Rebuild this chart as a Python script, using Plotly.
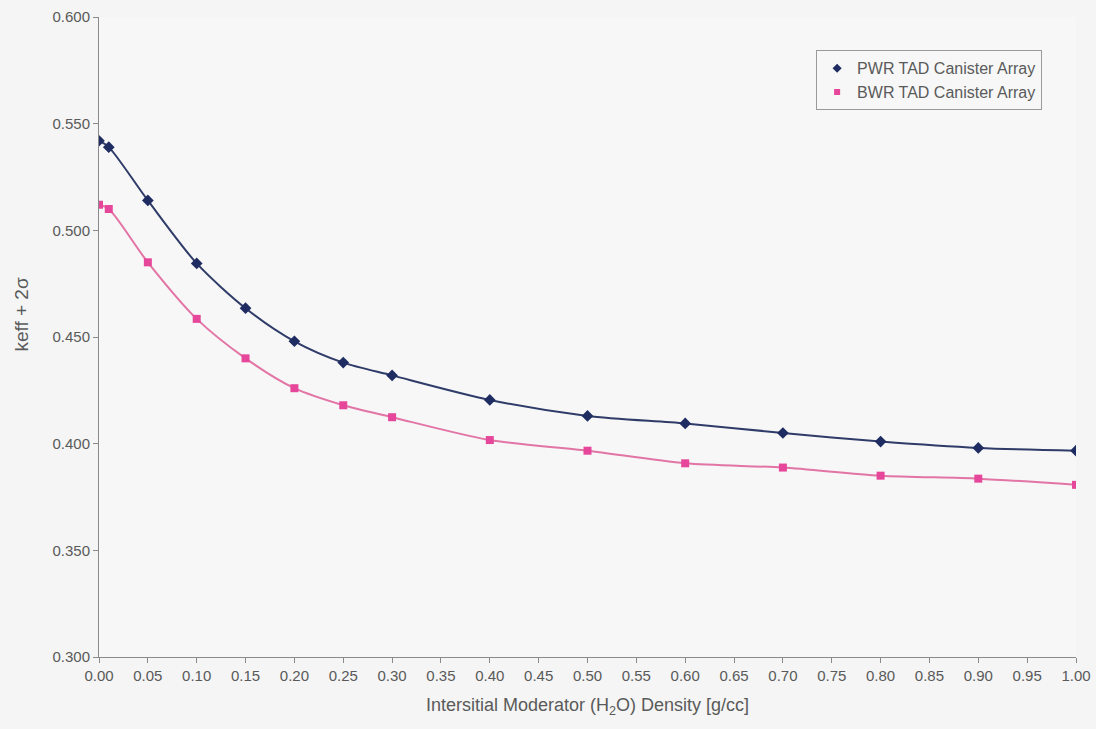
import plotly.graph_objects as go

# Interstitial moderator density [g/cc]
density = [0.00, 0.01, 0.05, 0.10, 0.15, 0.20, 0.25, 0.30, 0.40, 0.50, 0.60, 0.70, 0.80, 0.90, 1.00]

# keff + 2 sigma for each canister array
pwr_keff = [0.542, 0.539, 0.514, 0.4845, 0.4635, 0.448, 0.438, 0.432, 0.4205, 0.413, 0.4095,
            0.405, 0.401, 0.398, 0.3967]
bwr_keff = [0.512, 0.510, 0.485, 0.4585, 0.440, 0.426, 0.418, 0.4124, 0.4017, 0.3967, 0.3908,
            0.3888, 0.385, 0.3836, 0.3807]

x_ticks = [round(i * 0.05, 2) for i in range(21)]
x_tick_text = [f"{v:.2f}" for v in x_ticks]
y_ticks = [0.300, 0.350, 0.400, 0.450, 0.500, 0.550, 0.600]
y_tick_text = [f"{v:.3f}" for v in y_ticks]

FONT = "Liberation Sans, Arial, sans-serif"
GREY = "#5a5a5a"
AXIS = "#8a8a8a"

series = [
    ("PWR TAD Canister Array", pwr_keff, "#2f3b68", "#1f2c62", "diamond", 9),
    ("BWR TAD Canister Array", bwr_keff, "#e274a6", "#e6479a", "square", 8),
]

fig = go.Figure()
for name, values, line_color, marker_color, symbol, size in series:
    fig.add_trace(go.Scatter(
        x=density, y=values, name=name, showlegend=False,
        mode="lines+markers",
        line=dict(color=line_color, width=2, shape="spline", smoothing=0.8),
        marker=dict(symbol=symbol, size=size, color=marker_color),
    ))
# marker-only legend entries
for name, values, line_color, marker_color, symbol, size in series:
    fig.add_trace(go.Scatter(
        x=[None], y=[None], name=name, mode="markers",
        marker=dict(symbol=symbol, size=size - 2, color=marker_color),
    ))

fig.update_xaxes(
    range=[0, 1], tickvals=x_ticks, ticktext=x_tick_text,
    showgrid=False, zeroline=False, automargin=False,
    showline=True, linecolor=AXIS, linewidth=1,
    ticks="outside", ticklen=5, tickcolor=AXIS,
    tickfont=dict(family=FONT, size=15, color=GREY),
)
fig.update_yaxes(
    range=[0.3, 0.6], tickvals=y_ticks, ticktext=y_tick_text,
    showgrid=False, zeroline=False, automargin=False,
    showline=True, linecolor=AXIS, linewidth=1,
    ticks="outside", ticklen=5, tickcolor=AXIS,
    tickfont=dict(family=FONT, size=15, color=GREY),
)

fig.add_annotation(
    text="Intersitial Moderator (H<sub>2</sub>O) Density [g/cc]",
    xref="paper", yref="paper", x=0.5, y=-0.0776,
    xanchor="center", yanchor="middle", showarrow=False,
    font=dict(family=FONT, size=18, color=GREY),
)
fig.add_annotation(
    text="keff + 2σ",
    xref="paper", yref="paper", x=-0.0788, y=0.535,
    xanchor="center", yanchor="middle", showarrow=False, textangle=-90,
    font=dict(family=FONT, size=19, color=GREY),
)

fig.update_layout(
    width=1096, height=729,
    margin=dict(l=99, r=20, t=17, b=72),
    paper_bgcolor="#f4f5f4",
    plot_bgcolor="#f6f7f6",
    showlegend=True,
    legend=dict(
        x=0.734, y=0.948, xanchor="left", yanchor="top",
        bgcolor="#f6f7f6", bordercolor="#9a9a9a", borderwidth=1,
        font=dict(family=FONT, size=16, color=GREY),
        tracegroupgap=0, itemwidth=30,
    ),
)

fig.write_html("out.html")
